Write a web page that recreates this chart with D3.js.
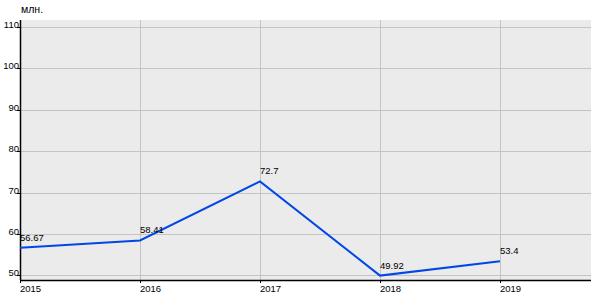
<script src="https://d3js.org/d3.v7.min.js"></script>
<style>
    body { margin: 0; background: #fff; }
    svg text { font: 9.5px 'Liberation Sans', Arial, sans-serif; fill: #000; }
    .grid line { stroke: #c4c4c4; stroke-width: 1; }
    .series { fill: none; stroke: #0047e6; stroke-width: 2; }
</style>
<svg id="chart" width="600" height="300"></svg>
<script>
    const years = [2015, 2016, 2017, 2018, 2019];
    const values = [56.67, 58.41, 72.7, 49.92, 53.4];
    const valueLabels = ["56.67", "58.41", "72.7", "49.92", "53.4"];
    const yTicks = [50, 60, 70, 80, 90, 100, 110];
    const unitLabel = "млн.";

    const plot = { left: 20, right: 591, top: 20, bottom: 280 };

    const svg = d3.select("#chart");

    // one year = 120px, last year sits ~91px before the right edge
    const xScale = d3.scaleLinear()
        .domain([2015, 2019])
        .range([plot.left, 500]);
    const yScale = d3.scaleLinear()
        .domain([48.86, 111.69])
        .range([plot.bottom, plot.top]);

    svg.append("rect")
        .attr("x", plot.left).attr("y", plot.top)
        .attr("width", plot.right - plot.left)
        .attr("height", plot.bottom - plot.top)
        .attr("fill", "#ebebeb");

    let grid = svg.append("g").attr("class", "grid");
    grid.selectAll("line.h")
        .data(yTicks)
        .enter().append("line").attr("class", "h")
        .attr("x1", plot.left).attr("x2", plot.right)
        .attr("y1", d => Math.round(yScale(d)) + 0.5)
        .attr("y2", d => Math.round(yScale(d)) + 0.5);
    grid.selectAll("line.v")
        .data(years.slice(1))
        .enter().append("line").attr("class", "v")
        .attr("y1", plot.top).attr("y2", plot.bottom)
        .attr("x1", d => Math.round(xScale(d)) + 0.5)
        .attr("x2", d => Math.round(xScale(d)) + 0.5);

    // axes
    let yAxis = svg.append("g");
    yAxis.append("line")
        .attr("x1", plot.left + 0.5).attr("x2", plot.left + 0.5)
        .attr("y1", plot.top).attr("y2", plot.bottom)
        .attr("stroke", "#000").attr("stroke-width", 1.5);
    yAxis.selectAll("line.tick")
        .data(yTicks)
        .enter().append("line").attr("class", "tick")
        .attr("x1", plot.left - 3).attr("x2", plot.left)
        .attr("y1", d => Math.round(yScale(d)) + 0.5)
        .attr("y2", d => Math.round(yScale(d)) + 0.5)
        .attr("stroke", "#000");
    yAxis.selectAll("text")
        .data(yTicks)
        .enter().append("text")
        .attr("x", plot.left - 1)
        .attr("y", d => Math.round(yScale(d)) + 0.5)
        .attr("text-anchor", "end")
        .text(d => d);

    let xAxis = svg.append("g");
    xAxis.append("line")
        .attr("x1", plot.left).attr("x2", plot.right)
        .attr("y1", plot.bottom + 0.5).attr("y2", plot.bottom + 0.5)
        .attr("stroke", "#000").attr("stroke-width", 1.5);
    xAxis.selectAll("line.tick")
        .data(years)
        .enter().append("line").attr("class", "tick")
        .attr("x1", d => Math.round(xScale(d)) + 0.5)
        .attr("x2", d => Math.round(xScale(d)) + 0.5)
        .attr("y1", plot.bottom).attr("y2", plot.bottom + 3)
        .attr("stroke", "#000");
    xAxis.selectAll("text")
        .data(years)
        .enter().append("text")
        .attr("x", d => xScale(d))
        .attr("y", plot.bottom + 12)
        .text(d => d);

    svg.append("text")
        .attr("x", 21).attr("y", 13)
        .style("font-size", "10.5px")
        .text(unitLabel);

    // series
    const points = years.map((y, i) => ({ x: y, y: values[i], label: valueLabels[i] }));
    const lineGen = d3.line()
        .x(d => xScale(d.x))
        .y(d => yScale(d.y));
    svg.append("path")
        .datum(points)
        .attr("class", "series")
        .attr("d", lineGen);
    svg.selectAll("text.value")
        .data(points)
        .enter().append("text").attr("class", "value")
        .attr("x", d => xScale(d.x))
        .attr("y", d => yScale(d.y) - 7)
        .text(d => d.label);
</script>
